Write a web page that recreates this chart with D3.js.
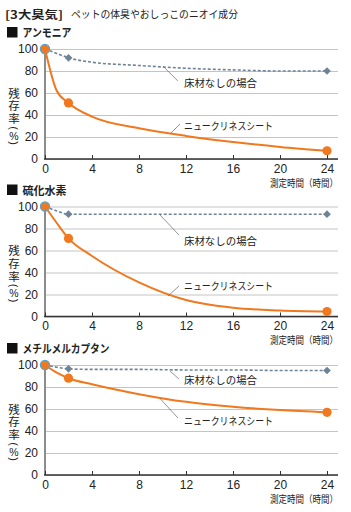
<!DOCTYPE html>
<html>
<head>
<meta charset="utf-8">
<script src="https://cdn.jsdelivr.net/npm/d3@7"></script>
<style>
  body { margin: 0; background: #fff; }
  text { font-family: "Liberation Sans", Arial, sans-serif; fill: #222; }
  .jp { font-family: "Noto Sans CJK JP", sans-serif; }
  .vert { writing-mode: vertical-rl; text-orientation: upright; }
</style>
</head>
<body>
<svg id="chart" width="351" height="512"></svg>
<script>
// measurement hours and axis ticks
const hours = [0, 1, 2, 4, 8, 12, 16, 20, 24];
const xTicks = [0, 4, 8, 12, 16, 20, 24];
const yTicks = [0, 20, 40, 60, 80, 100];
const sheetMarkerHours = [0, 2, 24];
const floorMarkerHours = [2, 24];

const headingTag = '[3大臭気]';
const headingText = 'ペットの体臭やおしっこのニオイ成分';
const panelTitles = ['アンモニア', '硫化水素', 'メチルメルカプタン'];
const seriesNames = ['床材なしの場合', 'ニュークリネスシート'];
const yLabel = '残存率';
const xLabel = '測定時間（時間）';

// residual rate (%)
const ammoniaFloor = [100, 96, 92, 88, 85, 82.5, 81, 80, 80];
const ammoniaSheet = [100, 62, 51, 38.5, 28, 21, 15.5, 11, 7.5];
const sulfideFloor = [100, 96, 93, 93, 93, 93, 93, 93, 93];
const sulfideSheet = [100, 85, 71, 55, 31, 15, 8, 5.5, 4.5];
const mercaptanFloor = [100, 98, 96.5, 96, 96, 95.5, 95.5, 95, 95];
const mercaptanSheet = [100, 93, 88, 82.5, 73.5, 66.5, 62, 59, 57];

const orange = '#f0781e';
const slate = '#6e8496';

const svg = d3.select('#chart');
svg.append('rect').attr('width', 351).attr('height', 512).attr('fill', '#fff');

const x = d3.scaleLinear().domain([0, 24]).range([45, 327]);
const gridRight = 338;

// heading
svg.append('text').attr('class', 'jp')
  .attr('x', 5).attr('y', 13.5)
  .attr('dominant-baseline', 'central')
  .attr('font-size', 11).attr('font-weight', 'bold')
  .attr('textLength', 58).attr('lengthAdjust', 'spacingAndGlyphs')
  .text(headingTag);
svg.append('text').attr('class', 'jp')
  .attr('x', 71).attr('y', 13.5)
  .attr('dominant-baseline', 'central')
  .attr('font-size', 10.5)
  .attr('textLength', 167).attr('lengthAdjust', 'spacingAndGlyphs')
  .text(headingText);

const panels = [
  { title: panelTitles[0], titleW: 49, floor: ammoniaFloor, sheet: ammoniaSheet, y0: 159,
    ann: [ { from: [10.04, 84.5], to: [11.3, 71], label: 69.1 },
           { from: [10.72, 23.6], to: [11.49, 31.8], label: 30.9 } ] },
  { title: panelTitles[1], titleW: 44, floor: sulfideFloor, sheet: sulfideSheet, y0: 316.5,
    ann: [ { from: [9.79, 92.3], to: [11.4, 74.1], label: 69.5 },
           { from: [10.47, 18.6], to: [11.4, 27.7], label: 28.6 } ] },
  { title: panelTitles[2], titleW: 87, floor: mercaptanFloor, sheet: mercaptanSheet, y0: 475,
    ann: [ { from: [10.64, 94.5], to: [11.4, 87.3], label: 86.4 },
           { from: [9.79, 69.5], to: [11.32, 51.8], label: 50 } ] }
];

const labelT = 11.83;
const labelW = [73, 89];

function drawPanel(p) {
  const y = d3.scaleLinear().domain([0, 100]).range([p.y0, p.y0 - 110]);
  const g = svg.append('g');

  // title
  g.append('rect').attr('x', 7).attr('y', y(100) - 22).attr('width', 10.5).attr('height', 10.5).attr('fill', '#111');
  g.append('text').attr('class', 'jp')
    .attr('x', 22.5).attr('y', y(100) - 16.8)
    .attr('dominant-baseline', 'central')
    .attr('font-size', 11.5).attr('font-weight', 'bold')
    .attr('textLength', p.titleW).attr('lengthAdjust', 'spacingAndGlyphs')
    .text(p.title);

  // y axis with gridlines
  const yAxis = g.append('g').attr('transform', `translate(${x(0)},0)`)
    .call(d3.axisLeft(y).tickValues(yTicks).tickSizeInner(-(gridRight - x(0))).tickSizeOuter(0).tickPadding(7));
  yAxis.select('.domain').remove();
  yAxis.selectAll('line').attr('stroke', '#c4c4c4').attr('stroke-width', 1);
  yAxis.selectAll('text').attr('font-size', 12).attr('fill', '#222')
    .attr('font-family', '"Liberation Sans", Arial, sans-serif');

  g.append('line').attr('x1', x(0)).attr('x2', x(0)).attr('y1', y(100)).attr('y2', y(0))
    .attr('stroke', '#8c8c8c').attr('stroke-width', 2);

  // x axis
  const xAxis = g.append('g').attr('transform', `translate(0,${y(0)})`)
    .call(d3.axisBottom(x).tickValues(xTicks).tickSizeInner(-4).tickSizeOuter(0).tickPadding(5));
  xAxis.select('.domain').remove();
  xAxis.selectAll('line').attr('stroke', '#333');
  xAxis.selectAll('text').attr('font-size', 12).attr('fill', '#222')
    .attr('font-family', '"Liberation Sans", Arial, sans-serif');
  g.append('line').attr('x1', x(0) - 1).attr('x2', gridRight).attr('y1', y(0)).attr('y2', y(0))
    .attr('stroke', '#333').attr('stroke-width', 1.5);

  g.append('text').attr('class', 'jp')
    .attr('x', gridRight).attr('y', y(0) + 23)
    .attr('text-anchor', 'end').attr('dominant-baseline', 'central')
    .attr('font-size', 10)
    .attr('textLength', 68).attr('lengthAdjust', 'spacingAndGlyphs')
    .text(xLabel);

  // y label, written vertically
  g.append('text').attr('class', 'jp vert')
    .attr('x', 14).attr('y', p.y0 - 71.5)
    .attr('font-size', 11.5)
    .attr('letter-spacing', 1.2)
    .text(yLabel);
  [['(', -31, 11], ['%', -23.5, 10.5], [')', -16, 11]].forEach(([c, dy, fs]) => {
    const t = g.append('text')
      .attr('x', 14).attr('y', p.y0 + dy)
      .attr('text-anchor', 'middle').attr('dominant-baseline', 'central')
      .attr('font-size', fs).text(c);
    if (c !== '%') t.attr('transform', `rotate(90,14,${p.y0 + dy})`);
  });

  const line = d3.line().x((d, i) => x(hours[i])).y(d => y(d)).curve(d3.curveMonotoneX);

  g.append('path').datum(p.floor).attr('d', line)
    .attr('fill', 'none').attr('stroke', slate).attr('stroke-width', 1.6)
    .attr('stroke-dasharray', '3,2');
  g.append('path').datum(p.sheet).attr('d', line)
    .attr('fill', 'none').attr('stroke', orange).attr('stroke-width', 2);

  // annotations
  p.ann.forEach((a, i) => {
    g.append('line')
      .attr('x1', x(a.from[0])).attr('y1', y(a.from[1]))
      .attr('x2', x(a.to[0])).attr('y2', y(a.to[1]))
      .attr('stroke', '#666').attr('stroke-width', 0.7);
    g.append('text').attr('class', 'jp')
      .attr('x', x(labelT)).attr('y', y(a.label))
      .attr('dominant-baseline', 'central')
      .attr('font-size', 10.5)
      .attr('textLength', labelW[i]).attr('lengthAdjust', 'spacingAndGlyphs')
      .text(seriesNames[i]);
  });

  // markers
  const diamond = d3.symbol().type(d3.symbolSquare).size(30);
  g.selectAll('.dia').data(floorMarkerHours).enter().append('path')
    .attr('d', diamond)
    .attr('transform', h => `translate(${x(h)},${y(p.floor[hours.indexOf(h)])}) rotate(45)`)
    .attr('fill', slate);

  g.selectAll('.dot').data(sheetMarkerHours).enter().append('circle')
    .attr('cx', h => x(h))
    .attr('cy', h => y(p.sheet[hours.indexOf(h)]))
    .attr('r', 4.6)
    .attr('fill', orange)
    .attr('stroke', h => h === 0 ? '#4fa6dc' : 'none')
    .attr('stroke-width', 1.2);
}

panels.forEach(drawPanel);
</script>
</body>
</html>
